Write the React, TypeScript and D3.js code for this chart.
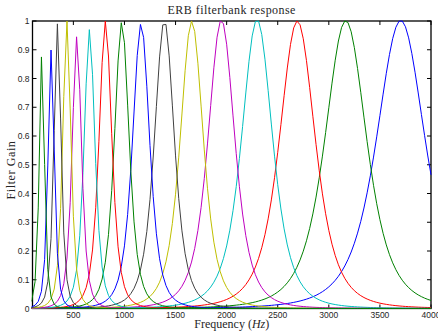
import React from 'react';
import * as d3 from 'd3';

const centerFreqs = [3704, 3166, 2692, 2298, 1949, 1659, 1391, 1163, 974, 814, 658, 534, 436, 345, 283, 192];
// peak gain as drawn (low channels miss their peak on the frequency grid)
const peakGains = [1, 1, 1, 1, 1, 1, 0.988, 0.988, 0.994, 1, 0.97, 0.945, 1, 0.99, 0.899, 0.875];
const colorOrder = ['#0000ff', '#008000', '#ff0000', '#00bfbf', '#bf00bf', '#bfbf00', '#404040'];
const xTicks = [500, 1000, 1500, 2000, 2500, 3000, 3500, 4000];
const yTicks = [0, 0.1, 0.2, 0.3, 0.4, 0.5, 0.6, 0.7, 0.8, 0.9, 1];

const width = 438;
const height = 333;
const binHz = 31.25; // fs 16k / 512 points

// 4th order gammatone magnitude around cf
const gammatone = (f: number, cf: number) => {
	const b = 1.019 * 24.7 * (4.37 * cf / 1000 + 1);
	const u = (f - cf) / b;
	return Math.pow(1 + u * u, -2);
};

const App: React.FC = () => {
	const x = d3.scaleLinear().domain([100, 4000]).range([32.5, 431]);
	const y = d3.scaleLinear().domain([0, 1]).range([308.5, 21]);
	const grid = d3.range(0, 4000 + 0.01, binHz);

	const line = d3
		.line<[number, number]>()
		.x((d) => x(d[0]))
		.y((d) => y(d[1]));

	const curves = centerFreqs.map((cf, i) => {
		const raw = grid.map((f) => gammatone(f, cf));
		const k = peakGains[i] / (d3.max(raw) as number);
		return line(grid.map((f, j) => [f, raw[j] * k] as [number, number])) as string;
	});

	const [x0, x1] = x.range();
	const [y0, y1] = y.range();
	const tickLen = 4;
	const tickFont = { fontFamily: 'Liberation Sans, Arial, sans-serif', fontSize: 8.5, fill: '#262626' };
	const labelFont = { fontFamily: 'Liberation Serif, Times New Roman, serif', fontSize: 12, fill: '#262626' };

	return (
		<div style={{ position: 'absolute', left: 0, top: 0 }}>
			<svg width={width} height={height} style={{ display: 'block', background: '#fff' }}>
				<defs>
					<clipPath id='plot-clip'>
						<rect x={x0 - 1} y={y1 - 1} width={x1 - x0 + 2} height={y0 - y1 + 2} />
					</clipPath>
				</defs>

				{/* ticks, all four sides, pointing in */}
				<g stroke='#000' strokeWidth={1}>
					{xTicks.map((t) => (
						<g key={'xt' + t}>
							<line x1={x(t)} x2={x(t)} y1={y0} y2={y0 - tickLen} />
							<line x1={x(t)} x2={x(t)} y1={y1} y2={y1 + tickLen} />
						</g>
					))}
					{yTicks.map((t) => (
						<g key={'yt' + t}>
							<line x1={x0} x2={x0 + tickLen} y1={y(t)} y2={y(t)} />
							<line x1={x1} x2={x1 - tickLen} y1={y(t)} y2={y(t)} />
						</g>
					))}
				</g>
				<rect x={x0} y={y1} width={x1 - x0} height={y0 - y1} fill='none' stroke='#000' strokeWidth={1.3} />

				<g clipPath='url(#plot-clip)' fill='none' strokeWidth={1}>
					{curves.map((d, i) => (
						<path key={i} d={d} stroke={colorOrder[i % colorOrder.length]} />
					))}
				</g>

				{xTicks.map((t) => (
					<text key={'xl' + t} x={x(t)} y={318} textAnchor='middle' {...tickFont}>
						{t}
					</text>
				))}
				{yTicks.map((t) => (
					<text key={'yl' + t} x={x0 - 3} y={y(t) + 3} textAnchor='end' {...tickFont}>
						{t}
					</text>
				))}

				<text x={(x0 + x1) / 2} y={14} textAnchor='middle' letterSpacing={0.45} {...labelFont}>
					ERB filterbank response
				</text>
				<text x={(x0 + x1) / 2} y={328} textAnchor='middle' {...labelFont}>
					Frequency (<tspan fontStyle='italic'>Hz</tspan>)
				</text>
				<text transform={`translate(15, 170) rotate(-90)`} textAnchor='middle' letterSpacing={0.6} {...labelFont}>
					Filter Gain
				</text>
			</svg>
		</div>
	);
};

export default App;
